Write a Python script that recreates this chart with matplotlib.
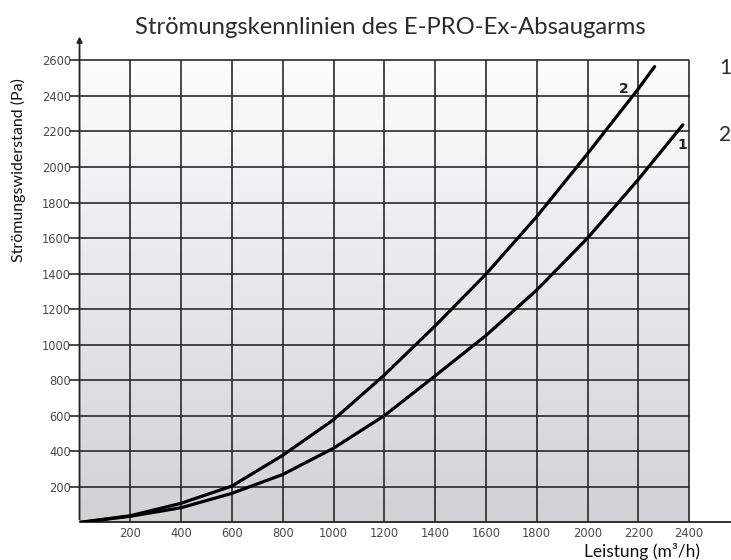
import numpy as np
import matplotlib.pyplot as plt
from matplotlib.colors import LinearSegmentedColormap

x_ticks = [200, 400, 600, 800, 1000, 1200, 1400, 1600, 1800, 2000, 2200, 2400]
y_ticks = [200, 400, 600, 800, 1000, 1200, 1400, 1600, 1800, 2000, 2200, 2400, 2600]

flow_1 = [0, 200, 400, 600, 800, 1000, 1200, 1400, 1600, 1800, 2000, 2200, 2375]
press_1 = [0, 35, 83, 164, 270, 418, 601, 825, 1052, 1308, 1600, 1930, 2237]

flow_2 = [0, 200, 400, 600, 800, 1000, 1200, 1400, 1600, 1800, 2000, 2200, 2264]
press_2 = [0, 38, 108, 205, 378, 578, 830, 1106, 1397, 1721, 2075, 2440, 2565]

fig = plt.figure(figsize=(7.31, 5.6), dpi=100)
ax = fig.add_axes([0.1088, 0.067, 0.8895, 0.8696])
ax.set_xlim(0, 2560)
ax.set_ylim(0, 2740)
for s in ax.spines.values():
    s.set_visible(False)

# grey gradient behind the grid
grad = np.linspace(0, 1, 256).reshape(-1, 1)
ax.imshow(grad, extent=[0, 2400, 0, 2600], aspect='auto', origin='lower',
          cmap=LinearSegmentedColormap.from_list('bg', ['#d0d2d6', '#fdfdfd']), zorder=0)

ax.vlines(x_ticks, 0, 2600, color='#2a2a2a', lw=1.2, zorder=1)
ax.hlines(y_ticks, -40, 2400, color='#2a2a2a', lw=1.2, zorder=1, clip_on=False)

# axes with arrows
ax.plot([0, 2560], [0, 0], color='#222222', lw=1.3, clip_on=False, zorder=2)
ax.annotate('', xy=(0, 2750), xytext=(0, 0),
            arrowprops=dict(arrowstyle='-|>', color='#222222', lw=1.3,
                            mutation_scale=8), annotation_clip=False)

ax.plot(flow_1, press_1, color='black', lw=2.3, zorder=3,
        solid_capstyle='round', solid_joinstyle='round')
ax.plot(flow_2, press_2, color='black', lw=2.3, zorder=3,
        solid_capstyle='round', solid_joinstyle='round')

ax.text(2375, 2124, '1', fontsize=10, fontweight='bold', ha='center', va='center', color='#222222')
ax.text(2141, 2438, '2', fontsize=10, fontweight='bold', ha='center', va='center', color='#222222')

ax.set_xticks(x_ticks)
ax.set_yticks(y_ticks)
ax.tick_params(length=0, labelsize=8.3, labelcolor='#4a4a4a')
ax.tick_params(axis='y', pad=6)
ax.tick_params(axis='x', pad=3)

fig.text(390 / 731, 1 - 27 / 560, 'Strömungskennlinien des E-PRO-Ex-Absaugarms',
         ha='center', va='center', fontsize=17.2, family='Lato', color='#2b2b2b')
fig.text(18 / 731, 1 - 170 / 560, 'Strömungswiderstand (Pa)', rotation=90,
         ha='center', va='center', fontsize=11.5, family='Lato', color='#111111')
fig.text(642 / 731, 1 - 551 / 560, 'Leistung (m³/h)',
         ha='center', va='center', fontsize=12.5, family='Lato', color='#111111')
fig.text(725 / 731, 1 - 68 / 560, '1', ha='center', va='center', fontsize=15,
         family='Lato', color='#2b2b2b')
fig.text(725 / 731, 1 - 135 / 560, '2', ha='center', va='center', fontsize=15,
         family='Lato', color='#2b2b2b')

fig.savefig('out.png', dpi=100)
